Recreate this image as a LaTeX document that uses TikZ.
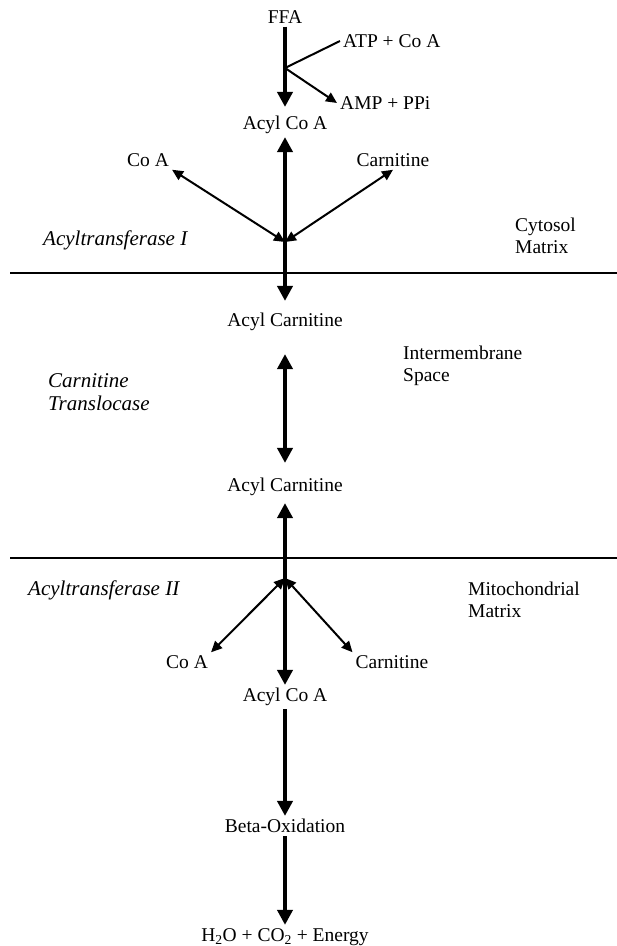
\documentclass[tikz,border=0pt]{standalone}
\usepackage{fontspec}
\setmainfont{Liberation Serif}
\usetikzlibrary{arrows.meta,positioning}

\tikzset{
  chem/.style={inner sep=3pt, font=\fontsize{19.5}{22}\selectfont},
  enzyme/.style={inner sep=0pt, anchor=west, align=left, font=\fontsize{21}{23}\selectfont\itshape},
  region/.style={inner sep=0pt, anchor=west, align=left, font=\fontsize{19.5}{22}\selectfont},
  bigarrow/.style={line width=4.5pt, -{Triangle[length=15pt,width=15pt]}},
  bigboth/.style={line width=4.5pt, {Triangle[length=15pt,width=15pt]}-{Triangle[length=15pt,width=15pt]}},
  smallarrow/.style={line width=2pt, -{Triangle[length=11pt,width=10pt]}},
  smallboth/.style={line width=2pt, {Triangle[length=11pt,width=10pt]}-{Triangle[length=11pt,width=10pt]}},
  membrane/.style={line width=1.5pt}
}

\begin{document}
\begin{tikzpicture}[x=1pt,y=-1pt]
  \useasboundingbox (0,0) rectangle (617,946);

  % Nodes
  \node[chem] (ffa) at (285,17) {FFA};
  \node[chem, anchor=west] (atp) at (340,41) {ATP + Co A};
  \node[chem, anchor=west] (amp) at (337,103) {AMP + PPi};
  \node[chem] (acoa_c) at (285,125) {Acyl Co A};
  \node[chem] (coa_c) at (148,160) {Co A};
  \node[chem] (carn_c) at (393,160) {Carnitine};
  \coordinate (j0) at (285,68);
  \coordinate (j1) at (285,242);

  \node[chem] (acarn_o) at (285,322) {Acyl Carnitine};
  \node[chem] (acarn_i) at (285,487) {Acyl Carnitine};

  \coordinate (j2) at (285,578);
  \node[chem] (coa_m) at (187,662) {Co A};
  \node[chem] (carn_m) at (392,662) {Carnitine};
  \node[chem] (acoa_m) at (285,697) {Acyl Co A};
  \node[chem] (beta) at (285,826) {Beta-Oxidation};
  \node[chem, anchor=base] (h2o) at (285,941) {H\textsubscript{2}O + CO\textsubscript{2} + Energy};

  % Labels
  \node[enzyme] (cat1) at (43,240) {Acyltransferase I};
  \node[enzyme] (cact) at (48,392) {Carnitine\\Translocase};
  \node[enzyme] (cat2) at (28,590) {Acyltransferase II};
  \node[region] (cytosol) at (515,236) {Cytosol\\Matrix};
  \node[region] (ims) at (403,366) {Intermembrane\\Space};
  \node[region] (mito) at (468,600) {Mitochondrial\\Matrix};

  % Membranes
  \coordinate (om_l) at (10,273);
  \coordinate (om_r) at (617,273);
  \coordinate (im_l) at (10,558);
  \coordinate (im_r) at (617,558);
  \draw[membrane] (om_l) -- (om_r);
  \draw[membrane] (im_l) -- (im_r);

  % Edges
  \draw[bigarrow, shorten >=6pt] (ffa) -- (acoa_c);
  \draw[smallarrow] (atp.west) -- (j0) -- (amp.west);

  \draw[bigboth, shorten >=9pt] (acoa_c) -- (acarn_o);
  \draw[smallboth] (j1) -- (coa_c.south east);
  \draw[smallboth] (j1) -- (carn_c.south);

  \draw[bigboth, shorten <=20pt, shorten >=12pt] (acarn_o) -- (acarn_i);

  \draw[bigboth, shorten <=4pt] (acarn_i) -- (acoa_m);
  \draw[smallboth] (j2) -- (coa_m.north east);
  \draw[smallboth] (j2) -- (carn_m.north west);

  \draw[bigarrow] (acoa_m) -- (beta);
  \draw[bigarrow] (beta) -- (h2o.north);
\end{tikzpicture}
\end{document}
